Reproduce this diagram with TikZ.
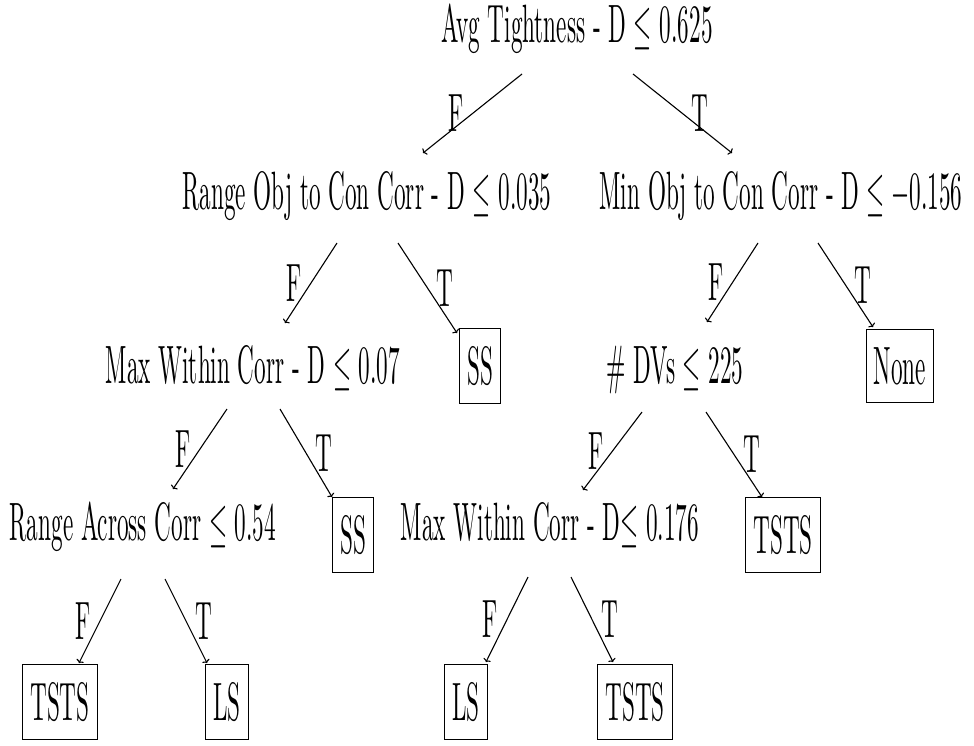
\documentclass[tikz,border=0pt]{standalone}
\usepackage{amssymb}
\usetikzlibrary{arrows.meta,calc}
\tikzset{
  lbl/.style={xscale=2.32,yscale=5.4,inner xsep=3.33pt,inner ysep=0pt},
  blatt/.style={lbl,draw,inner sep=3.33pt,line width=1.3pt},
  kante/.style={-{To[length=3pt,width=8pt]},line width=1.1pt},
}

\begin{document}
\begin{tikzpicture}[x=1pt,y=-1pt]
  \useasboundingbox (0,0) rectangle (974,745);
  % inner nodes
  \node[lbl,anchor=base] (root) at (577,42) {Avg Tightness - D $\leq$ 0.625};
  \node[lbl,anchor=base] (robj) at (367,209) {Range Obj to Con Corr - D $\leq$ 0.035};
  \node[lbl,anchor=base] (mobj) at (781,209) {Min Obj to Con Corr - D $\leq -0.156$};
  \node[lbl,anchor=base] (mw1) at (253,383) {Max Within Corr - D $\leq$ 0.07};
  \node[lbl,anchor=base] (dvs) at (675,383) {\# DVs $\leq$ 225};
  \node[lbl,anchor=base] (racr) at (143,540) {Range Across Corr $\leq$ 0.54};
  \node[lbl,anchor=base] (mw2) at (550,540) {Max Within Corr - D$\leq$ 0.176};
  % leaves
  \node[blatt] (ss1) at (480,366) {SS};
  \node[blatt] (none) at (900,366) {None};
  \node[blatt] (ss2) at (353,535) {SS};
  \node[blatt] (tsts1) at (783,535) {TSTS};
  \node[blatt] (tsts2) at (60,702) {TSTS};
  \node[blatt] (ls1) at (227,702) {LS};
  \node[blatt] (ls2) at (466,702) {LS};
  \node[blatt] (tsts3) at (635,702) {TSTS};
  % branches
  \draw[kante] ($(root.base)+(-55,32)$) -- ($(robj.base)+(56,-56)$) node[lbl,midway,left]{F};
  \draw[kante] ($(root.base)+(56,32)$) -- ($(mobj.base)+(-49,-56)$) node[lbl,midway,right]{T};
  \draw[kante] ($(robj.base)+(-30,34)$) -- ($(mw1.base)+(32,-60)$) node[lbl,midway,left]{F};
  \draw[kante] ($(robj.base)+(31,34)$) -- ($(ss1)+(-23,-33)$) node[lbl,midway,right]{T};
  \draw[kante] ($(mobj.base)+(-23,34)$) -- ($(dvs.base)+(32,-61)$) node[lbl,midway,left]{F};
  \draw[kante] ($(mobj.base)+(37,34)$) -- ($(none)+(-27,-39)$) node[lbl,midway,right]{T};
  \draw[kante] ($(mw1.base)+(-26,26)$) -- ($(racr.base)+(30,-51)$) node[lbl,midway,left]{F};
  \draw[kante] ($(mw1.base)+(27,26)$) -- ($(ss2)+(-21,-38)$) node[lbl,midway,right]{T};
  \draw[kante] ($(dvs.base)+(-33,29)$) -- ($(mw2.base)+(33,-50)$) node[lbl,midway,left]{F};
  \draw[kante] ($(dvs.base)+(31,29)$) -- ($(tsts1)+(-21,-38)$) node[lbl,midway,right]{T};
  \draw[kante] ($(racr.base)+(-22,39)$) -- ($(tsts2)+(19,-39)$) node[lbl,midway,left]{F};
  \draw[kante] ($(racr.base)+(22,39)$) -- ($(ls1)+(-20,-39)$) node[lbl,midway,right]{T};
  \draw[kante] ($(mw2.base)+(-22,37)$) -- ($(ls2)+(20,-40)$) node[lbl,midway,left]{F};
  \draw[kante] ($(mw2.base)+(21,37)$) -- ($(tsts3)+(-22,-40)$) node[lbl,midway,right]{T};
\end{tikzpicture}
\end{document}
